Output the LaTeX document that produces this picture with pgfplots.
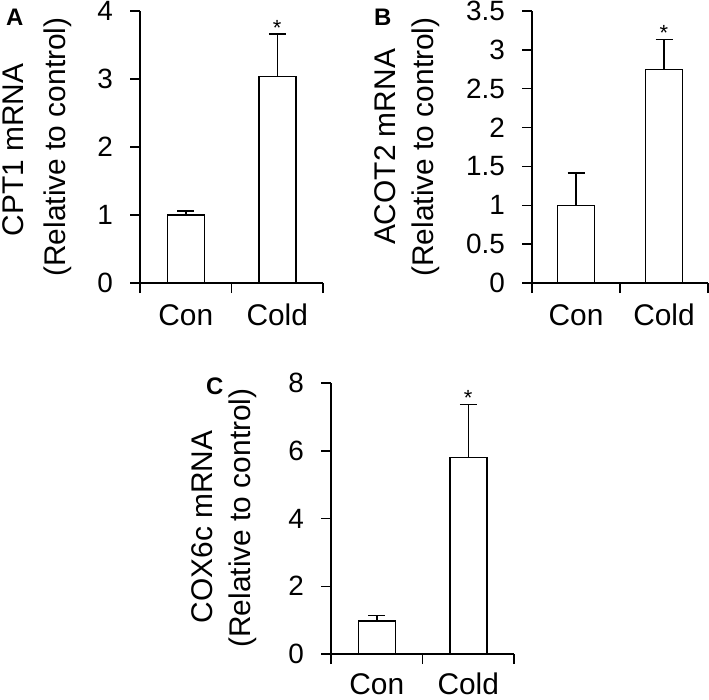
\documentclass[border=0pt]{standalone}
\usepackage{fontspec}
\setmainfont{Liberation Sans}
\usepackage{pgfplots}
\pgfplotsset{compat=1.18}
\pgfplotsset{
  panel/.style={
    scale only axis, anchor=south west, xmin=0, xmax=2, ymin=0,
    axis x line*=bottom, axis y line*=left,
    axis line style={line width=1.5bp, -},
    tick align=outside, major tick length=10bp,
    tick style={line width=1.5bp, black},
    xtick={0,1,2}, xticklabels={},
    extra x ticks={0.5,1.5}, extra x tick labels={Con,Cold},
    extra x tick style={major tick length=0pt, tick style={draw=none}},
    xticklabel style={font=\fontsize{30}{35}\selectfont, inner sep=0pt, yshift=-21bp},
    yticklabel style={font=\fontsize{28}{33}\selectfont, inner sep=0pt, xshift=-17bp},
    /pgf/number format/assume math mode=true,
    clip=false,
  },
  bars/.style={ybar, bar width=37bp, bar shift=0pt, fill=white, draw=black, line width=1.5bp,
    error bars/.cd, y dir=plus, y explicit,
    error bar style={line width=1.5bp, black},
    error mark options={rotate=90, mark size=8.5bp, line width=1.5bp, black}},
}
\newcommand{\lblfont}{\fontsize{30}{35}\selectfont}
\newcommand{\starfont}{\fontsize{22}{26}\selectfont}
\begin{document}
\begin{tikzpicture}
\useasboundingbox (0,0) rectangle (709bp,-700bp);
% Panel A
\begin{axis}[panel, at={(140bp,-283bp)}, width=183bp, height=272bp, ymax=4, ytick={0,1,2,3,4}]
\addplot[bars] coordinates {(0.5,1.00) +- (0,0.06) (1.5,3.04) +- (0,0.62)};
\node[anchor=base, font=\starfont, yshift=-1bp] at (axis cs:1.5,3.66) {*};
\end{axis}
% Panel B
\begin{axis}[panel, at={(532bp,-283bp)}, width=176bp, height=272bp, ymax=3.5, ytick={0,0.5,1,1.5,2,2.5,3,3.5}]
\addplot[bars] coordinates {(0.5,1.00) +- (0,0.415) (1.5,2.75) +- (0,0.385)};
\node[anchor=base, font=\starfont, yshift=-1bp] at (axis cs:1.5,3.135) {*};
\end{axis}
% Panel C
\begin{axis}[panel, at={(331bp,-654bp)}, width=183bp, height=271bp, ymax=8, ytick={0,2,4,6,8}, xticklabel style={yshift=2bp}]
\addplot[bars] coordinates {(0.5,0.97) +- (0,0.16) (1.5,5.80) +- (0,1.56)};
\node[anchor=base, font=\starfont, yshift=-1bp] at (axis cs:1.5,7.36) {*};
\end{axis}
% y labels
\node[rotate=90, anchor=base, font=\lblfont] at (23bp,-150bp) {CPT1 mRNA};
\node[rotate=90, anchor=base, font=\lblfont] at (65bp,-147bp) {(Relative to control)};
\node[rotate=90, anchor=base, font=\lblfont] at (395bp,-147bp) {ACOT2 mRNA};
\node[rotate=90, anchor=base, font=\lblfont] at (433bp,-147bp) {(Relative to control)};
\node[rotate=90, anchor=base, font=\lblfont] at (212bp,-527bp) {COX6c mRNA};
\node[rotate=90, anchor=base, font=\lblfont] at (250bp,-518bp) {(Relative to control)};
% panel letters
\node[anchor=north west, inner sep=0pt, font=\bfseries\fontsize{24}{28}\selectfont] at (6bp,-9bp) {A};
\node[anchor=north west, inner sep=0pt, font=\bfseries\fontsize{24}{28}\selectfont] at (374bp,-9bp) {B};
\node[anchor=north west, inner sep=0pt, font=\bfseries\fontsize{24}{28}\selectfont] at (206bp,-378bp) {C};
\end{tikzpicture}
\end{document}
